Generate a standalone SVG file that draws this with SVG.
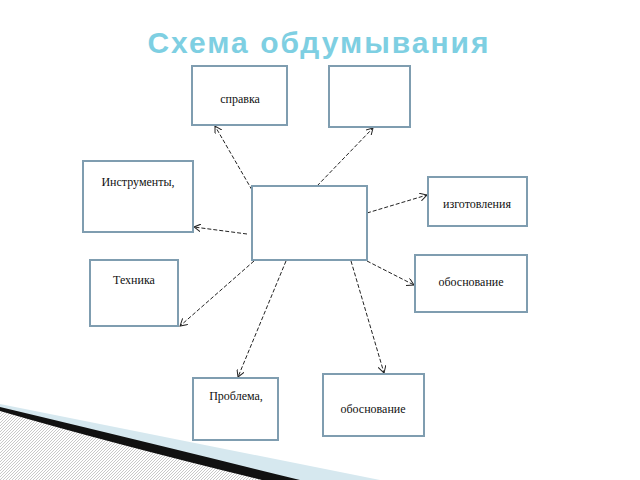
<svg xmlns="http://www.w3.org/2000/svg" width="640" height="480" viewBox="0 0 640 480">
<style>
.b{fill:#fff;stroke:#7f9db0;stroke-width:2}
.t{font-family:"Liberation Serif",serif;font-size:12px;fill:#111;text-anchor:middle}
.c{stroke:#222;stroke-width:1;stroke-dasharray:4 2;fill:none;marker-end:url(#a)}
</style>
<defs>
<marker id="a" markerWidth="8" markerHeight="8" refX="7" refY="4" orient="auto" markerUnits="userSpaceOnUse"><path d="M0,0 L7,4 L0,8" fill="none" stroke="#222"/></marker>
<pattern id="h" width="3" height="3" patternUnits="userSpaceOnUse"><rect width="3" height="3" fill="#fff"/><path d="M0,3 L3,0" stroke="#bbb" stroke-width="0.8"/></pattern>
</defs>
<rect width="640" height="480" fill="#fff"/>
<g id="decor">
<polygon points="0,404 380,480 0,480" fill="#d6e8ef"/>
<polygon points="0,408 290,480 0,480" fill="url(#h)"/>
<path d="M0,407 Q130,438 300,480 L262,480 Q110,443 0,411 Z" fill="#111"/>
</g>
<text x="319" y="53" font-family="Liberation Sans,sans-serif" font-weight="bold" font-size="30" fill="#7ecfe2" text-anchor="middle" letter-spacing="2">Схема обдумывания</text>
<g id="connectors">
<line class="c" x1="252" y1="190" x2="215" y2="126"/>
<line class="c" x1="317" y1="186" x2="373" y2="128"/>
<line class="c" x1="247" y1="234" x2="194" y2="227"/>
<line class="c" x1="367" y1="213" x2="427" y2="195"/>
<line class="c" x1="367" y1="261" x2="414" y2="285"/>
<line class="c" x1="254" y1="261" x2="180" y2="326"/>
<line class="c" x1="286" y1="261" x2="238" y2="377"/>
<line class="c" x1="351" y1="261" x2="384" y2="373"/>
</g>
<g id="center"><rect class="b" x="252" y="186" width="115" height="74"/></g>
<g id="spravka"><rect class="b" x="192" y="66" width="95" height="59"/><text class="t" x="240" y="103">справка</text></g>
<g id="empty"><rect class="b" x="329" y="66" width="81" height="61"/></g>
<g id="instr"><rect class="b" x="83" y="161" width="110" height="71"/><text class="t" x="138" y="186">Инструменты,</text></g>
<g id="izgot"><rect class="b" x="428" y="177" width="99" height="49"/><text class="t" x="477" y="208">изготовления</text></g>
<g id="tehnika"><rect class="b" x="90" y="260" width="88" height="66"/><text class="t" x="134" y="284">Техника</text></g>
<g id="obosn1"><rect class="b" x="415" y="255" width="112" height="57"/><text class="t" x="471" y="286">обоснование</text></g>
<g id="problema"><rect class="b" x="193" y="378" width="85" height="62"/><text class="t" x="236" y="400">Проблема,</text></g>
<g id="obosn2"><rect class="b" x="323" y="374" width="101" height="62"/><text class="t" x="373" y="413">обоснование</text></g>
</svg>
